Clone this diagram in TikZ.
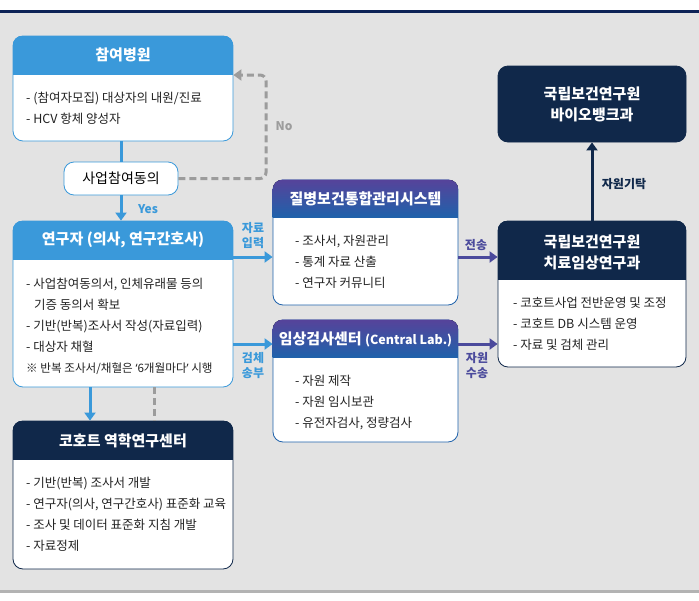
\documentclass[tikz,border=0pt]{standalone}
\usepackage{fontspec}
\setmainfont{Noto Sans CJK KR}
\newfontfamily\latinfont{Noto Sans}
\usetikzlibrary{arrows.meta}
\definecolor{skyblue}{HTML}{3A99DA}
\definecolor{navy}{HTML}{10284A}
\definecolor{topline}{HTML}{0D2357}
\definecolor{violet}{HTML}{56439A}
\definecolor{deepblue}{HTML}{1F62AB}
\definecolor{violetline}{HTML}{4B4A9C}
\definecolor{bggray}{HTML}{E3E3E3}
\definecolor{bargray}{HTML}{B3B3B3}
\definecolor{dashgray}{HTML}{9C9C9C}
\definecolor{ink}{HTML}{222222}

% header band of a card: node name, height, fill options
\newcommand\headband[3]{%
  \begin{scope}
    \clip[rounded corners=10pt] (#1.south west) rectangle (#1.north east);
    \fill[#3] (#1.north west) rectangle ([yshift=-#2pt]#1.north east);
  \end{scope}}

\begin{document}
\begin{tikzpicture}[x=1pt,y=-1pt,
    card/.style={draw=#1, fill=white, line width=0.8pt, rounded corners=10pt, inner sep=0pt},
    title/.style={text=white, align=center, font=\fontsize{15}{21}\selectfont\bfseries},
    body/.style={anchor=north west, align=left, inner sep=0pt, text=ink, font=\fontsize{12.5}{21}\selectfont},
    tag/.style={align=center, inner sep=0pt, font=\fontsize{12}{15}\selectfont\bfseries},
    flow/.style={line width=3pt, -{Triangle[width=11pt,length=8pt]}},
    backflow/.style={dashgray, line width=3pt, dash pattern=on 7pt off 4pt, rounded corners=6pt}]

  \useasboundingbox (0,0) rectangle (699,600);
  \fill[bggray] (0,13) rectangle (699,590);
  \fill[topline] (0,10) rectangle (699,13);
  \fill[bargray] (0,590) rectangle (699,593);

  % cards
  \node[card=skyblue, minimum width=220, minimum height=105] (hosp) at (123,88.5) {};
  \headband{hosp}{39}{skyblue}
  \node[title] (hospT) at (123,55) {참여병원};
  \node[body] (hospB) at (26,92) {- (참여자모집) 대상자의 내원/진료\\- HCV 항체 양성자};

  \node[card=skyblue, minimum width=114, minimum height=33] (consent) at (121,178.5)
       {\fontsize{14}{16}\selectfont 사업참여동의};

  \node[card=skyblue, minimum width=220, minimum height=166] (res) at (123,304) {};
  \headband{res}{39}{skyblue}
  \node[title] (resT) at (123,240) {연구자 (의사, 연구간호사)};
  \node[body] (resB) at (26,278) {- 사업참여동의서, 인체유래물 등의\\
    \hspace{8pt}기증 동의서 확보\\- 기반(반복)조사서 작성(자료입력)\\- 대상자 채혈\\
    {\fontsize{11.6}{21}\selectfont ※ 반복 조사서/채혈은 {\latinfont ‘}6개월마다{\latinfont ’} 시행}};

  \node[card=navy, minimum width=220, minimum height=148] (cohort) at (123,495) {};
  \headband{cohort}{39}{navy}
  \node[title] (cohortT) at (123,441) {코호트 역학연구센터};
  \node[body] (cohortB) at (26,477) {- 기반(반복) 조사서 개발\\- 연구자(의사, 연구간호사) 표준화 교육\\
    - 조사 및 데이터 표준화 지침 개발\\- 자료정제};

  \node[card=deepblue, minimum width=185, minimum height=125] (ehr) at (365.5,242.5) {};
  \headband{ehr}{38}{top color=violet, bottom color=deepblue}
  \node[title] (ehrT) at (365.5,199) {질병보건통합관리시스템};
  \node[body] (ehrB) at (295,235) {- 조사서, 자원관리\\- 통계 자료 산출\\- 연구자 커뮤니티};

  \node[card=deepblue, minimum width=185, minimum height=122] (lab) at (365.5,381) {};
  \headband{lab}{38}{top color=violet, bottom color=deepblue}
  \node[title] (labT) at (365.5,339) {임상검사센터 {\fontsize{12.5}{15}\selectfont (Central Lab.)}};
  \node[body] (labB) at (295,375) {- 자원 제작\\- 자원 임시보관\\- 유전자검사, 정량검사};

  \node[card=navy, fill=navy, minimum width=188, minimum height=76] (bio) at (592,104) {};
  \node[title] (bioT) at (592,104) {국립보건연구원\\바이오뱅크과};

  \node[card=navy, minimum width=188, minimum height=146] (nih) at (592,294) {};
  \headband{nih}{59}{navy}
  \node[title] (nihT) at (592,252) {국립보건연구원\\치료임상연구과};
  \node[body] (nihB) at (513,297) {- 코호트사업 전반운영 및 조정\\- 코호트 DB 시스템 운영\\- 자료 및 검체 관리};

  % connectors
  \draw[skyblue, line width=3pt] (consent.north |- hosp.south) -- (consent.north);
  \draw[flow, skyblue] (consent) -- (consent |- res.north);
  \node[tag, text=skyblue] (yes) at (148,209) {Yes};

  \coordinate (back) at (266,75);
  \draw[backflow, -{Triangle[width=11pt,length=8pt]}] (consent.east) -| (back) -- (back -| hosp.east);
  \node[tag, text=dashgray] (no) at (284,126) {No};

  \coordinate (ehrIn) at ([yshift=-14.5pt]ehr.west);
  \coordinate (labIn) at ([yshift=37pt]lab.west);
  \draw[flow, skyblue] (res.east |- ehrIn) -- (ehrIn);
  \node[tag, text=skyblue] (input) at (253,236) {자료\\입력};
  \draw[flow, skyblue] (res.east |- labIn) -- (labIn);
  \node[tag, text=skyblue] (ship) at (253,366) {검체\\송부};

  \draw[flow, violetline] (ehrIn -| ehr.east) -- (ehrIn -| nih.west);
  \node[tag, text=violetline] (send) at (476,245) {전송};
  \draw[flow, violetline] (labIn -| lab.east) -- (labIn -| nih.west);
  \node[tag, text=violetline] (carry) at (477,366) {자원\\수송};

  \draw[flow, navy] (nih.north) -- (bio.south);
  \node[tag, text=navy] (deposit) at (624,184) {자원기탁};

  \coordinate (down) at ([xshift=-33pt]res.south);
  \draw[flow, skyblue] (down) -- (down |- cohort.north);
  \coordinate (dash) at ([xshift=31pt]res.south);
  \draw[backflow] (dash) -- (dash |- cohort.north);
\end{tikzpicture}
\end{document}
